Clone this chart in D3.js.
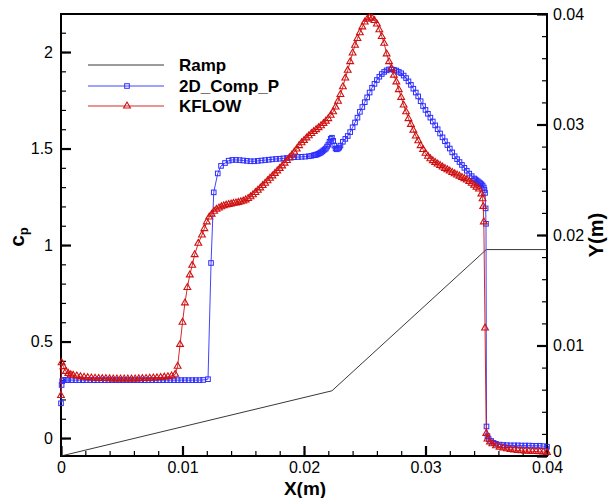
<!DOCTYPE html>
<html>
<head>
<meta charset="utf-8">
<script src="https://cdn.jsdelivr.net/npm/d3@7.9.0/dist/d3.min.js"></script>
<style>
  body { margin: 0; background: #fff; }
  svg { display: block; font-family: "Liberation Sans", Arial, sans-serif; }
</style>
</head>
<body>
<div id="chart"></div>
<script>
// tick labels
const xTicks = [0, 0.01, 0.02, 0.03, 0.04];
const cpTicks = [0, 0.5, 1, 1.5, 2];
const yTicks = [0, 0.01, 0.02, 0.03, 0.04];

// ramp geometry, X(m) vs Y(m) on the right axis
const ramp = [[0, 0], [0.0223, 0.0059], [0.035, 0.01868], [0.04, 0.01868]];

// 2D_Comp_P, X(m) vs cp
const comp = [
  [0, 0.18], [0.00005, 0.275], [0.0001, 0.295], [0.0002, 0.301], [0.0004, 0.301], [0.0006, 0.300],
  [0.0009, 0.300], [0.0012, 0.300], [0.0015, 0.300], [0.0018, 0.300], [0.0021, 0.300], [0.0024, 0.300],
  [0.0027, 0.300], [0.0030, 0.300], [0.0033, 0.300], [0.0036, 0.300], [0.0039, 0.300], [0.0042, 0.300],
  [0.0045, 0.300], [0.0048, 0.300], [0.0051, 0.300], [0.0054, 0.300], [0.0057, 0.300], [0.0060, 0.300],
  [0.0063, 0.300], [0.0066, 0.300], [0.0069, 0.300], [0.0072, 0.300], [0.0075, 0.300], [0.0078, 0.300],
  [0.0081, 0.300], [0.0084, 0.300], [0.0087, 0.300], [0.0090, 0.300], [0.0093, 0.300], [0.0096, 0.300],
  [0.0099, 0.300], [0.0102, 0.300], [0.0105, 0.300], [0.0108, 0.300], [0.0111, 0.300], [0.0114, 0.300],
  [0.0117, 0.301], [0.0121, 0.305], [0.01235, 0.907], [0.01257, 1.273], [0.0129, 1.371], [0.01317, 1.41],
  [0.0135, 1.425], [0.0138, 1.437], [0.0141, 1.441], [0.0144, 1.441], [0.0147, 1.440], [0.0150, 1.438],
  [0.0153, 1.436], [0.0156, 1.434], [0.0159, 1.434], [0.0162, 1.436], [0.0165, 1.438], [0.0168, 1.440],
  [0.0171, 1.442], [0.0174, 1.444], [0.0177, 1.446], [0.0180, 1.447], [0.0183, 1.449], [0.0186, 1.451],
  [0.0189, 1.453], [0.0192, 1.455], [0.0195, 1.456], [0.0198, 1.457], [0.0201, 1.458], [0.0204, 1.460],
  [0.0206, 1.462], [0.0208, 1.465], [0.0209, 1.466], [0.0210, 1.468], [0.0211, 1.470], [0.0212, 1.473],
  [0.0213, 1.476], [0.0214, 1.480], [0.0215, 1.485], [0.0216, 1.490], [0.0217, 1.495], [0.0218, 1.500],
  [0.0219, 1.510], [0.0220, 1.520], [0.0221, 1.535], [0.0222, 1.550], [0.0223, 1.556], [0.0224, 1.540],
  [0.0225, 1.515], [0.0226, 1.500], [0.0227, 1.496], [0.0228, 1.500], [0.0229, 1.505], [0.0230, 1.515],
  [0.0232, 1.535], [0.0234, 1.550], [0.0236, 1.565], [0.0238, 1.585], [0.0240, 1.610], [0.0242, 1.635],
  [0.0244, 1.660], [0.0246, 1.690], [0.0248, 1.715], [0.0250, 1.740], [0.0252, 1.765], [0.0254, 1.790],
  [0.0256, 1.815], [0.0258, 1.835], [0.0260, 1.855], [0.0262, 1.872], [0.0264, 1.886], [0.0266, 1.897],
  [0.0268, 1.905], [0.0270, 1.910], [0.0272, 1.910], [0.0274, 1.908], [0.0276, 1.904], [0.0278, 1.897],
  [0.0280, 1.890], [0.0282, 1.878], [0.0284, 1.865], [0.0286, 1.848], [0.0288, 1.830], [0.0290, 1.810],
  [0.0292, 1.790], [0.0294, 1.770], [0.0296, 1.745], [0.0298, 1.720], [0.0300, 1.700], [0.0302, 1.680],
  [0.0304, 1.660], [0.0306, 1.640], [0.0308, 1.620], [0.0310, 1.600], [0.0312, 1.578], [0.0314, 1.558],
  [0.0316, 1.538], [0.0318, 1.518], [0.0320, 1.500], [0.0322, 1.480], [0.0324, 1.460], [0.0326, 1.445],
  [0.0328, 1.430], [0.0330, 1.415], [0.0332, 1.400], [0.0334, 1.385], [0.0336, 1.370], [0.0338, 1.357],
  [0.0340, 1.345], [0.0341, 1.340], [0.0342, 1.335], [0.0343, 1.330], [0.0344, 1.325], [0.0345, 1.320],
  [0.0346, 1.315], [0.0347, 1.308], [0.0348, 1.298], [0.03485, 1.285], [0.0349, 1.270], [0.03495, 1.19],
  [0.03498, 1.11], [0.03502, 0.06], [0.0351, 0.01], [0.0352, -0.005], [0.0354, -0.015], [0.0356, -0.025],
  [0.0358, -0.030], [0.0361, -0.034], [0.0364, -0.036], [0.0367, -0.037], [0.0370, -0.038], [0.0373, -0.038],
  [0.0376, -0.038], [0.0379, -0.039], [0.0382, -0.039], [0.0385, -0.039], [0.0388, -0.040], [0.0391, -0.040],
  [0.0394, -0.040], [0.0397, -0.042], [0.0400, -0.045]
];

// KFLOW, X(m) vs cp
const kflow = [
  [0, 0.22], [0.00005, 0.39], [0.0002, 0.370], [0.0004, 0.345], [0.0006, 0.335], [0.0008, 0.328],
  [0.0010, 0.325], [0.0013, 0.322], [0.0016, 0.318], [0.0019, 0.315], [0.0022, 0.313], [0.0025, 0.311],
  [0.0028, 0.310], [0.0031, 0.309], [0.0034, 0.308], [0.0037, 0.308], [0.0040, 0.307], [0.0043, 0.306],
  [0.0046, 0.306], [0.0049, 0.306], [0.0052, 0.306], [0.0055, 0.306], [0.0058, 0.306], [0.0061, 0.306],
  [0.0064, 0.307], [0.0067, 0.308], [0.0070, 0.309], [0.0073, 0.310], [0.0076, 0.311], [0.0079, 0.312],
  [0.0082, 0.314], [0.0085, 0.316], [0.0088, 0.318], [0.0091, 0.322], [0.0094, 0.330], [0.0096, 0.372],
  [0.0098, 0.485], [0.0100, 0.600], [0.0102, 0.700], [0.0104, 0.780], [0.0106, 0.845], [0.0108, 0.895],
  [0.0110, 0.950], [0.0113, 1.009], [0.0116, 1.052], [0.0118, 1.085], [0.0120, 1.120], [0.0122, 1.145],
  [0.0124, 1.160], [0.0126, 1.175], [0.0128, 1.185], [0.0130, 1.192], [0.0132, 1.198], [0.0134, 1.203],
  [0.0136, 1.207], [0.0138, 1.210], [0.0140, 1.213], [0.0142, 1.216], [0.0144, 1.218], [0.0146, 1.221],
  [0.0148, 1.224], [0.0150, 1.228], [0.0152, 1.234], [0.0154, 1.241], [0.0156, 1.250], [0.0158, 1.260],
  [0.0160, 1.272], [0.0162, 1.284], [0.0164, 1.296], [0.0166, 1.308], [0.0168, 1.320], [0.0170, 1.333],
  [0.0172, 1.346], [0.0174, 1.358], [0.0176, 1.371], [0.0178, 1.384], [0.0180, 1.397], [0.0182, 1.410],
  [0.0184, 1.424], [0.0186, 1.438], [0.0188, 1.452], [0.0190, 1.467], [0.0192, 1.482], [0.0194, 1.497],
  [0.0196, 1.515], [0.0198, 1.530], [0.0200, 1.542], [0.0202, 1.555], [0.0204, 1.566], [0.0206, 1.578],
  [0.0208, 1.588], [0.0210, 1.598], [0.0212, 1.608], [0.0214, 1.618], [0.0216, 1.630], [0.0218, 1.642],
  [0.0220, 1.655], [0.0222, 1.672], [0.0224, 1.690], [0.0226, 1.715], [0.0228, 1.745], [0.0230, 1.780],
  [0.0232, 1.820], [0.0234, 1.865], [0.0236, 1.905], [0.0238, 1.950], [0.0240, 1.995], [0.0242, 2.035],
  [0.0244, 2.070], [0.0246, 2.100], [0.0248, 2.130], [0.0250, 2.155], [0.0252, 2.170], [0.0254, 2.177],
  [0.0256, 2.175], [0.0258, 2.163], [0.0260, 2.145], [0.0262, 2.115], [0.0264, 2.080], [0.0266, 2.045],
  [0.0268, 1.990], [0.0270, 1.950], [0.0272, 1.915], [0.0274, 1.880], [0.0276, 1.845], [0.0278, 1.805],
  [0.0280, 1.765], [0.0282, 1.725], [0.0284, 1.690], [0.0286, 1.655], [0.0288, 1.625], [0.0290, 1.595],
  [0.0292, 1.565], [0.0294, 1.540], [0.0296, 1.515], [0.0298, 1.495], [0.0300, 1.475], [0.0302, 1.460],
  [0.0304, 1.447], [0.0306, 1.437], [0.0308, 1.428], [0.0310, 1.420], [0.0312, 1.412], [0.0314, 1.404],
  [0.0316, 1.397], [0.0318, 1.390], [0.0320, 1.383], [0.0322, 1.376], [0.0324, 1.369], [0.0326, 1.363],
  [0.0328, 1.357], [0.0330, 1.350], [0.0332, 1.344], [0.0334, 1.337], [0.0336, 1.329], [0.0338, 1.320],
  [0.0340, 1.310], [0.0342, 1.300], [0.0344, 1.290], [0.0346, 1.265], [0.0347, 1.240], [0.03475, 1.200],
  [0.0348, 1.120], [0.0349, 0.570], [0.0350, 0.024], [0.0351, -0.005], [0.0353, -0.020], [0.0355, -0.030],
  [0.0358, -0.040], [0.0361, -0.047], [0.0364, -0.052], [0.0367, -0.056], [0.0370, -0.059], [0.0373, -0.062],
  [0.0376, -0.064], [0.0379, -0.066], [0.0382, -0.067], [0.0385, -0.068], [0.0388, -0.069], [0.0391, -0.070],
  [0.0394, -0.071], [0.0397, -0.072], [0.0400, -0.075]
];

const width = 612, height = 498;
const margin = { top: 14, right: 65, bottom: 42, left: 61 };
const plotLeft = margin.left, plotRight = width - margin.right;
const plotTop = margin.top, plotBottom = height - margin.bottom;

const blue = '#2d2dff', red = '#d01010';

const svg = d3.select('#chart').append('svg')
  .attr('width', width).attr('height', height);

const x = d3.scaleLinear().domain([0, 0.04]).range([plotLeft, plotRight]);
const cp = d3.scaleLinear().domain([-0.093, 2.197]).range([plotBottom, plotTop]);
const y = d3.scaleLinear().domain([0, 0.04]).range([plotBottom, plotTop]);

function styleAxis(g, w) {
  g.select('.domain').remove();
  g.selectAll('line').attr('stroke', '#000').attr('stroke-width', w);
  g.selectAll('text').attr('fill', '#000').style('font-size', '16px');
}

// minor ticks
svg.append('g').attr('transform', `translate(0,${plotBottom})`)
  .call(d3.axisBottom(x).tickValues(d3.range(0, 0.0401, 0.002)).tickSize(-5).tickFormat(''))
  .call(g => styleAxis(g, 1.2));
svg.append('g').attr('transform', `translate(${plotLeft},0)`)
  .call(d3.axisLeft(cp).tickValues(d3.range(-0.0, 2.15, 0.1)).tickSize(-5).tickFormat(''))
  .call(g => styleAxis(g, 1.2));
svg.append('g').attr('transform', `translate(${plotRight},0)`)
  .call(d3.axisRight(y).tickValues(d3.range(0, 0.0401, 0.002)).tickSize(-5).tickFormat(''))
  .call(g => styleAxis(g, 1.2));

// major ticks + labels
svg.append('g').attr('transform', `translate(0,${plotBottom})`)
  .call(d3.axisBottom(x).tickValues(xTicks).tickSize(-10).tickPadding(6).tickFormat(d => String(d)))
  .call(g => styleAxis(g, 2.2));
svg.append('g').attr('transform', `translate(${plotLeft},0)`)
  .call(d3.axisLeft(cp).tickValues(cpTicks).tickSize(-10).tickPadding(8).tickFormat(d => String(d)))
  .call(g => styleAxis(g, 2.2));
svg.append('g').attr('transform', `translate(${plotRight},0)`)
  .call(d3.axisRight(y).tickValues(yTicks).tickSize(-10).tickPadding(6).tickFormat(d => String(d)))
  .call(g => styleAxis(g, 2.2))
  .call(g => g.selectAll('.tick').filter(d => d === 0).select('text').attr('dy', '0.05em'));

// frame
svg.append('rect')
  .attr('x', plotLeft).attr('y', plotTop)
  .attr('width', plotRight - plotLeft).attr('height', plotBottom - plotTop)
  .attr('fill', 'none').attr('stroke', '#000').attr('stroke-width', 2);

// axis titles
svg.append('text')
  .attr('x', (plotLeft + plotRight) / 2 + 1).attr('y', 495)
  .attr('text-anchor', 'middle')
  .style('font-size', '19px').style('font-weight', 'bold')
  .text('X(m)');

svg.append('text')
  .attr('transform', 'translate(603,235) rotate(-90)')
  .attr('text-anchor', 'middle')
  .style('font-size', '20px').style('font-weight', 'bold')
  .text('Y(m)');

const cpLabel = svg.append('text')
  .attr('transform', 'translate(24,237) rotate(-90)')
  .attr('text-anchor', 'middle')
  .style('font-size', '21px').style('font-weight', 'bold');
cpLabel.append('tspan').text('c');
cpLabel.append('tspan').attr('dy', 4).style('font-size', '13px').text('p');

// curves
const plot = svg.append('g');

const rampLine = d3.line().x(d => x(d[0])).y(d => y(d[1]));
plot.append('path').datum(ramp)
  .attr('d', rampLine).attr('fill', 'none')
  .attr('stroke', '#222').attr('stroke-width', 0.9);

const cpLine = d3.line().x(d => x(d[0])).y(d => cp(d[1]));
const tri = d3.symbol(d3.symbolTriangle, 20);

plot.append('path').datum(comp)
  .attr('d', cpLine).attr('fill', 'none')
  .attr('stroke', blue).attr('stroke-width', 0.9);
plot.append('g').selectAll('rect')
  .data(comp).join('rect')
  .attr('x', d => x(d[0]) - 2.3).attr('y', d => cp(d[1]) - 2.3)
  .attr('width', 4.6).attr('height', 4.6)
  .attr('fill', 'none').attr('stroke', blue).attr('stroke-width', 1);

plot.append('path').datum(kflow)
  .attr('d', cpLine).attr('fill', 'none')
  .attr('stroke', red).attr('stroke-width', 0.9);
plot.append('g').selectAll('path')
  .data(kflow).join('path')
  .attr('d', tri)
  .attr('transform', d => `translate(${x(d[0])},${cp(d[1])})`)
  .attr('fill', 'none').attr('stroke', red).attr('stroke-width', 1.1);

// legend
const legend = svg.append('g');
const rows = [
  { name: 'Ramp', color: '#222', marker: null, yy: 65 },
  { name: '2D_Comp_P', color: blue, marker: 'square', yy: 86 },
  { name: 'KFLOW', color: red, marker: 'triangle', yy: 106 }
];
rows.forEach(r => {
  legend.append('line')
    .attr('x1', 88).attr('x2', 164).attr('y1', r.yy).attr('y2', r.yy)
    .attr('stroke', r.color).attr('stroke-width', 0.9);
  if (r.marker === 'square') {
    legend.append('rect')
      .attr('x', 127 - 2.3).attr('y', r.yy - 2.3).attr('width', 4.6).attr('height', 4.6)
      .attr('fill', 'none').attr('stroke', r.color).attr('stroke-width', 1);
  } else if (r.marker === 'triangle') {
    legend.append('path').attr('d', tri)
      .attr('transform', `translate(127,${r.yy})`)
      .attr('fill', 'none').attr('stroke', r.color).attr('stroke-width', 1.1);
  }
  legend.append('text')
    .attr('x', 179).attr('y', r.yy).attr('dy', '0.35em')
    .style('font-size', '17px').style('font-weight', 'bold')
    .text(r.name);
});
</script>
</body>
</html>
